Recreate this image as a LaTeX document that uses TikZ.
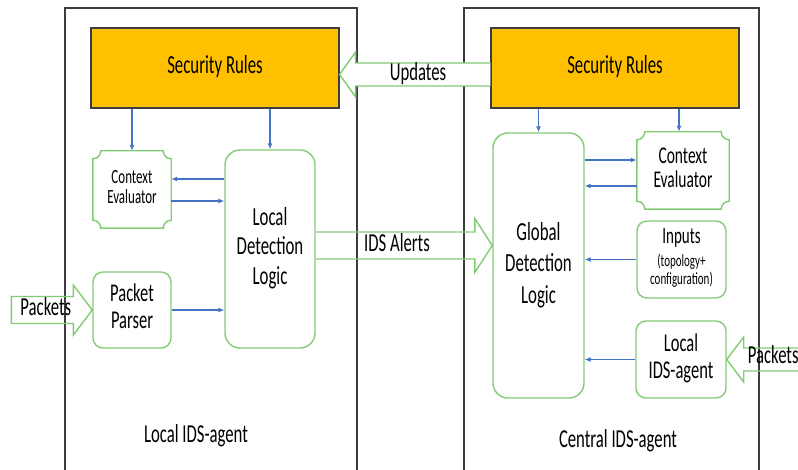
\documentclass[tikz,border=0pt]{standalone}
\usepackage{fontspec}
\setmainfont{Carlito}
\usepackage{graphicx}
\usetikzlibrary{positioning,calc,arrows.meta}

\definecolor{rulesorange}{HTML}{FFC000}
\definecolor{boxgreen}{HTML}{82CB74}
\definecolor{linkblue}{HTML}{4472C4}
\definecolor{panelgray}{HTML}{3C3C3C}

% text in the reference is drawn tall and narrow
\newcommand{\tallt}[1]{\scalebox{1}[1.55]{\begin{tabular}{@{}c@{}}#1\end{tabular}}}
% box with hollow corners
\newcommand{\plaque}[1]{\draw[boxline] ($(#1.north west)+(8,0)$) -- ($(#1.north east)+(-8,0)$) arc[start angle=180,end angle=270,radius=8pt] -- ($(#1.south east)+(0,8)$) arc[start angle=90,end angle=180,radius=8pt] -- ($(#1.south west)+(8,0)$) arc[start angle=0,end angle=90,radius=8pt] -- ($(#1.north west)+(0,-8)$) arc[start angle=270,end angle=360,radius=8pt] -- cycle;}

\tikzset{
  panel/.style={draw=panelgray, line width=1.2pt},
  boxline/.style={draw=boxgreen, line width=1.4pt},
  rulesbox/.style={draw=panelgray, fill=rulesorange, line width=1.2pt, minimum width=248pt, minimum height=80pt, inner sep=0pt, font=\fontsize{16.8}{18.5}\selectfont},
  logicbox/.style={boxline, rounded corners=15pt, inner sep=0pt, font=\fontsize{16.8}{19}\selectfont},
  smallbox/.style={boxline, rounded corners=10pt, inner sep=0pt, font=\fontsize{16.5}{17.4}\selectfont},
  evalbox/.style={inner sep=0pt},
  agentlabel/.style={inner sep=0pt, font=\fontsize{16.7}{18}\selectfont},
  arrowtext/.style={inner sep=0pt, font=\fontsize{16.7}{18}\selectfont},
  link/.style={-{Latex[length=6pt,width=5pt]}, draw=linkblue, line width=1.2pt},
  fatarrow/.style={draw=boxgreen, line width=1.4pt, line join=miter},
}

\begin{document}
\begin{tikzpicture}[x=1pt,y=1pt]
\useasboundingbox (0,0) rectangle (798,469);

% the two agents
\draw[panel] (65,-20) rectangle (357,461);
\draw[panel] (464,-20) rectangle (759,461);
\node[agentlabel] (localname) at (196,32) {\tallt{Local IDS-agent}};
\node[agentlabel] (centralname) at (618,27) {\tallt{Central IDS-agent}};

% local agent
\node[rulesbox] (rules1) at (215,401) {\tallt{Security Rules}};
\node[evalbox, minimum width=78pt, minimum height=77pt, font=\fontsize{13}{12.5}\selectfont] (eval1) at (132,279.5) {\tallt{Context\\Evaluator}};
\plaque{eval1}
\node[logicbox, minimum width=90pt, minimum height=198pt] (logic1) at (270,220) {\tallt{Local\\Detection\\Logic}};
\node[smallbox, minimum width=78pt, minimum height=76pt] (parser) at (132,159) {\tallt{Packet\\Parser}};

% central agent
\node[rulesbox] (rules2) at (615,401) {\tallt{Security Rules}};
\node[logicbox, minimum width=91pt, minimum height=265pt, font=\fontsize{16.8}{20.3}\selectfont] (logic2) at (538.5,203.5) {\tallt{Global\\Detection\\Logic}};
\node[evalbox, minimum width=92pt, minimum height=77pt, font=\fontsize{15.5}{15.7}\selectfont] (eval2) at (683,298.5) {\tallt{Context\\Evaluator}};
\plaque{eval2}
\node[smallbox, minimum width=89pt, minimum height=77pt, font=\fontsize{15}{14.8}\selectfont] (inputs) at (681.5,209.5) {\tallt{Inputs\\{\fontsize{11}{10}\selectfont(topology+}\\[-3.5pt]{\fontsize{11}{10}\selectfont configuration)}}};
\node[smallbox, minimum width=90pt, minimum height=77pt] (agent) at (681,109.5) {\tallt{Local\\IDS-agent}};

% links inside the local agent
\path ([yshift=10.5pt]eval1.east) coordinate (e1in) ([yshift=-11.5pt]eval1.east) coordinate (e1out);
\draw[link] (rules1.south -| eval1) -- (eval1.north);
\draw[link] (rules1.south -| logic1) -- (logic1.north);
\draw[link] (e1in -| logic1.west) -- (e1in);
\draw[link] (e1out) -- (e1out -| logic1.west);
\draw[link] (parser.east) -- (parser.east -| logic1.west);

% links inside the central agent
\path ([yshift=10.5pt]eval2.west) coordinate (e2in) ([yshift=-15.5pt]eval2.west) coordinate (e2out);
\draw[link] (rules2.south -| logic2) -- (logic2.north);
\draw[link] ([xshift=-4pt]rules2.south -| eval2) -- ([xshift=-4pt]eval2.north);
\draw[link] (e2in -| logic2.east) -- (e2in);
\draw[link] (e2out) -- (e2out -| logic2.east);
\draw[link] (inputs.west) -- (inputs.west -| logic2.east);
\draw[link] (agent.west) -- (agent.west -| logic2.east);

% updates
\coordinate (updtip) at ([yshift=-6.5pt]rules1.east);
\coordinate (updtail) at (updtip -| rules2.west);
\draw[fatarrow, fill=white] ($(updtail)+(0,11.5)$) -- ($(updtip)+(16,11.5)$) -- ++(0,11) -- (updtip) -- ++(16,-22.5) -- ++(0,11) -- ($(updtail)+(0,-11.5)$);
\node[arrowtext] (updlabel) at ($(updtip)!0.52!(updtail)$) {\tallt{Updates}};

% alerts
\coordinate (alstart) at ([yshift=3.5pt]logic1.east);
\coordinate (altip) at (alstart -| logic2.west);
\draw[fatarrow] ($(alstart)+(0,13.5)$) -- ($(altip)+(-17.5,13.5)$) -- ++(0,13.5) -- (altip) -- ++(-17.5,-27) -- ++(0,13.5) -- ($(alstart)+(0,-13.5)$);
\node[arrowtext] (allabel) at ($(alstart)!0.5!(altip)+(-7,0)$) {\tallt{IDS Alerts}};

% packets
\coordinate (pktin) at ([xshift=-81pt]parser.west);
\draw[fatarrow] ($(pktin)+(0,13.5)$) -- ($(parser.west)+(-19,13.5)$) -- ++(0,11.5) -- (parser.west) -- ++(-19,-25) -- ++(0,11.5) -- ($(pktin)+(0,-13.5)$) -- cycle;
\node[arrowtext] (pktlabel) at ($(pktin)!0.5!(parser.west)+(-6,0)$) {\tallt{Packets}};

\coordinate (pktin2) at ([xshift=80pt]agent.east);
\draw[fatarrow] ($(pktin2)+(0,11.5)$) -- ($(agent.east)+(17,11.5)$) -- ++(0,11) -- (agent.east) -- ++(17,-22.5) -- ++(0,11) -- ($(pktin2)+(0,-11.5)$);
\node[arrowtext] (pktlabel2) at ($(agent.east)+(46.5,1.5)$) {\tallt{Packets}};
\end{tikzpicture}
\end{document}
